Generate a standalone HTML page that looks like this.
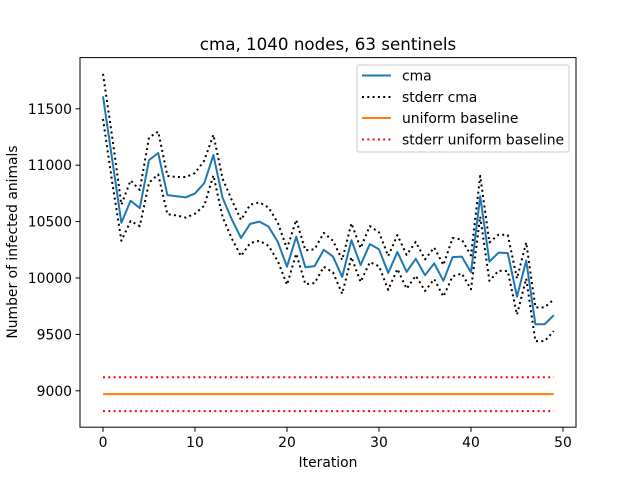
<!DOCTYPE html>
<html><head><meta charset="utf-8"><style>
body{margin:0;background:#fff}
svg text{font-family:"DejaVu Sans","Liberation Sans",sans-serif}
</style></head><body>
<svg id="chart" width="640" height="480" xmlns="http://www.w3.org/2000/svg">
<rect width="640" height="480" fill="#fff"/>
<text x="328" y="50" font-size="16.7" text-anchor="middle">cma, 1040 nodes, 63 sentinels</text>
<g id="plot"></g>
<rect x="80" y="57.6" width="496" height="369.6" fill="none" stroke="#000" stroke-width="1"/>
<g id="ticks"></g>
<text x="328" y="467" font-size="13.9" text-anchor="middle">Iteration</text>
<text transform="translate(17,242) rotate(-90)" font-size="13.9" text-anchor="middle">Number of infected animals</text>
<g>
<rect x="357" y="65" width="212" height="87" rx="2" fill="#fff" fill-opacity="0.8" stroke="#ccc" stroke-width="1"/>
<line x1="362" y1="75.5" x2="391" y2="75.5" stroke="#1f77b4" stroke-width="2"/>
<text x="402" y="80.5" font-size="13.9">cma</text>
<line x1="362" y1="97" x2="391" y2="97" stroke="#000" stroke-width="2" stroke-dasharray="2,3.3"/>
<text x="402" y="102" font-size="13.9">stderr cma</text>
<line x1="362" y1="118" x2="391" y2="118" stroke="#ff7f0e" stroke-width="2"/>
<text x="402" y="123" font-size="13.9">uniform baseline</text>
<line x1="362" y1="139.5" x2="391" y2="139.5" stroke="#f00" stroke-width="2" stroke-dasharray="2,3.3"/>
<text x="402" y="144.5" font-size="13.9">stderr uniform baseline</text>
</g>
</svg>
<script>
const cmaMean=[11610,11050,10490,10685,10620,11045,11108,10735,10725,10715,10750,10840,11090,10710,10520,10355,10480,10500,10455,10320,10100,10365,10095,10105,10250,10190,10010,10335,10115,10300,10255,10045,10230,10055,10170,10025,10130,9975,10185,10190,10050,10725,10145,10225,10220,9835,10155,9590,9590,9670];
const cmaErr=[200,200,160,180,160,200,190,170,170,180,180,200,180,170,170,160,170,170,170,170,160,150,150,150,150,140,150,150,150,160,150,150,150,150,150,140,140,140,170,150,150,180,170,160,160,160,160,150,150,140];
const baseline=[8970];
const baselineErr=[150];
const xTicks=[0,10,20,30,40,50];
const yTicks=[9000,9500,10000,10500,11000,11500];
const NS="http://www.w3.org/2000/svg";
const sx=v=>103+v*9.2;
const sy=v=>278-(v-10000)*0.1128;
const plot=document.getElementById('plot');
function mk(t,a){const e=document.createElementNS(NS,t);for(const k in a)e.setAttribute(k,a[k]);return e;}
function line(vals,color,dash,name){
  const p=mk('polyline',{points:vals.map((v,i)=>sx(i)+','+sy(v)).join(' '),fill:'none',stroke:color,'stroke-width':2,'stroke-linejoin':'round'});
  if(dash)p.setAttribute('stroke-dasharray',dash);
  
  
  plot.appendChild(p);
}
line(cmaMean.map((v,i)=>v+cmaErr[i]),'#000','2,3.3','stderr-cma-upper');
line(cmaMean.map((v,i)=>v-cmaErr[i]),'#000','2,3.3','stderr-cma-lower');
line(cmaMean,'#1f77b4',null,'cma-line');
line(cmaMean.map(()=>baseline[0]),'#ff7f0e',null,'uniform-baseline-line');
line(cmaMean.map(()=>baseline[0]+baselineErr[0]),'#f00','2,3.3','stderr-uniform-upper');
line(cmaMean.map(()=>baseline[0]-baselineErr[0]),'#f00','2,3.3','stderr-uniform-lower');
const tk=document.getElementById('ticks');
xTicks.forEach(t=>{
  const l=mk('line',{x1:sx(t),x2:sx(t),y1:427.2,y2:431.7,stroke:'#000','stroke-width':1});
  
  
  tk.appendChild(l);
  const tx=mk('text',{x:sx(t),y:447,'font-size':13.9,'text-anchor':'middle'});
  tx.textContent=t;
  
  
  tk.appendChild(tx);
});
yTicks.forEach(t=>{
  const l=mk('line',{x1:75.5,x2:80,y1:sy(t),y2:sy(t),stroke:'#000','stroke-width':1});
  
  
  tk.appendChild(l);
  const tx=mk('text',{x:72,y:sy(t)+5,'font-size':13.9,'text-anchor':'end'});
  tx.textContent=t;
  
  
  tk.appendChild(tx);
});
</script>
</body></html>
